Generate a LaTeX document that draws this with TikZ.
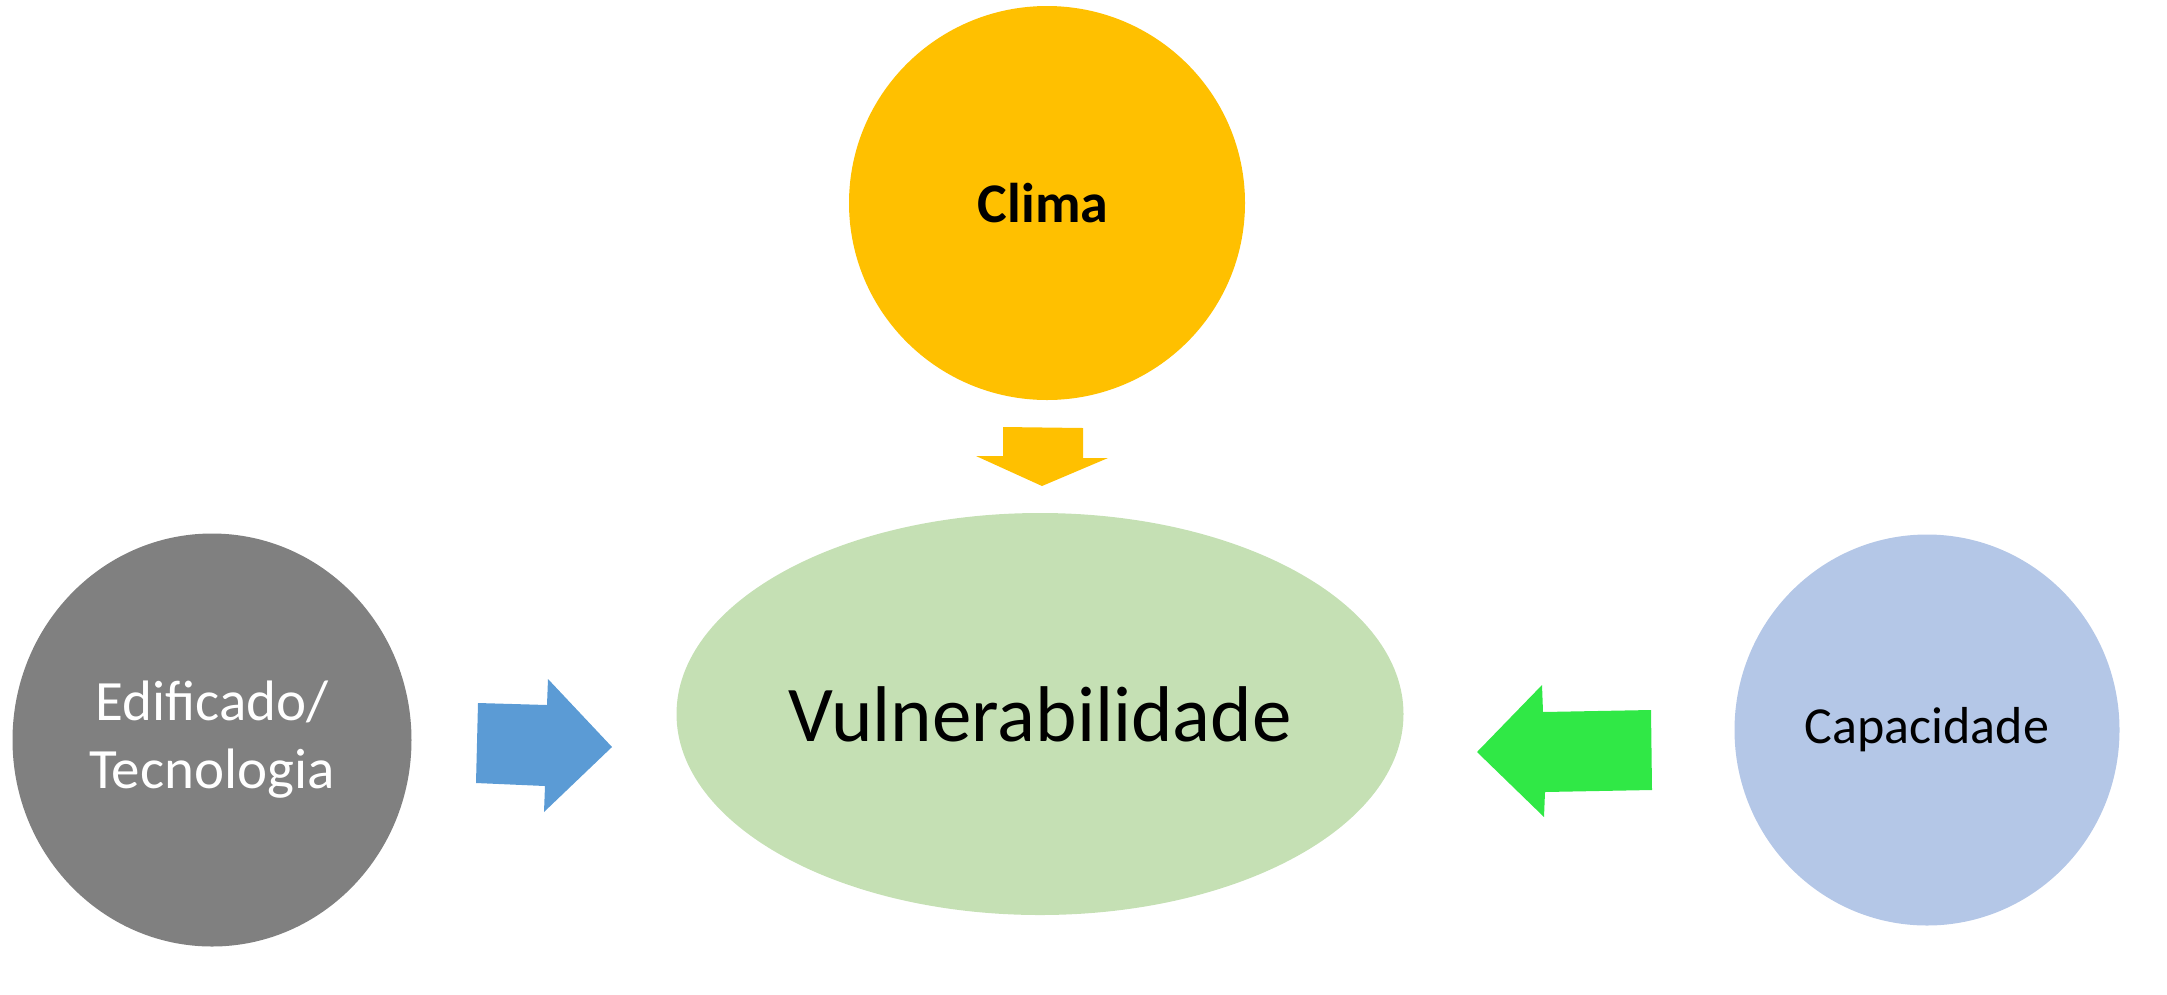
\documentclass[tikz,border=0pt]{standalone}
\usepackage{fontspec}
\setmainfont{Carlito}
\usetikzlibrary{shapes.geometric}
\definecolor{climafill}{HTML}{FFC000}
\definecolor{vulnfill}{HTML}{C5E0B4}
\definecolor{edifill}{HTML}{808080}
\definecolor{capfill}{HTML}{B4C7E7}
\definecolor{bluearrow}{HTML}{5B9BD5}
\definecolor{greenarrow}{HTML}{30E846}
\tikzset{
  blob/.style={ellipse, inner sep=0pt, draw=none},
  bigtext/.style={font=\fontsize{52}{63}\selectfont, align=center},
}
\begin{document}
\begin{tikzpicture}[x=1pt, y=-1pt]
\useasboundingbox (0,0) rectangle (2167,994);

% the four factors
\node[blob, fill=climafill, minimum width=396pt, minimum height=394pt] (clima) at (1047,203) {};
\node[blob, fill=vulnfill, minimum width=727pt, minimum height=402pt] (vuln) at (1040,714) {};
\node[blob, fill=edifill, minimum width=399pt, minimum height=413pt] (edif) at (212,740) {};
\node[blob, fill=capfill, minimum width=385pt, minimum height=391pt] (cap) at (1927,730) {};

% labels
\node[bigtext, font=\fontsize{56}{66}\selectfont\bfseries] (climatxt) at ([xshift=-4pt]clima.center) {Clima};
\node[bigtext, font=\fontsize{79}{94}\selectfont] (vulntxt) at (vuln.center) {Vulnerabilidade};
\node[bigtext, text=white, font=\fontsize{57}{68}\selectfont] (ediftxt) at (edif.center) {Edificado/\\Tecnologia};
\node[bigtext] (captxt) at (cap.center) {Capacidade};

% block arrows pointing into the central ellipse
\fill[climafill] (1003,427) -- (1083,428) -- (1083,458) -- (1108,458)
  -- (1042,486) -- (976,456) -- (1003,456) -- cycle;
\fill[bluearrow] (478,703) -- (547,705) -- (548,679) -- (612,747)
  -- (544,812) -- (545,786) -- (476,783) -- cycle;
\fill[greenarrow] (1651,710) -- (1543,712) -- (1542,685) -- (1477,752)
  -- (1544,817) -- (1545,792) -- (1652,790) -- cycle;
\end{tikzpicture}
\end{document}
